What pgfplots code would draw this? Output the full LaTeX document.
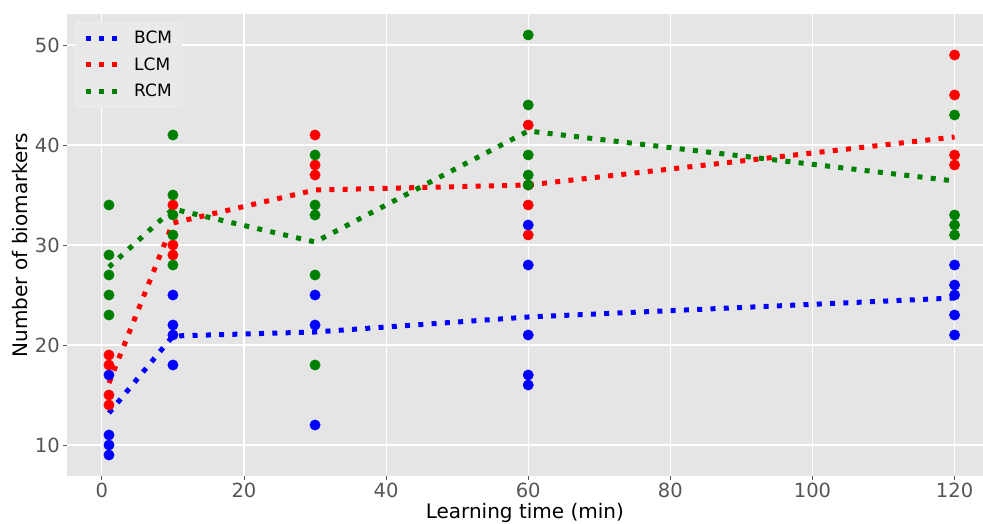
\documentclass[border=0pt]{standalone}
\usepackage{fontspec}
\setmainfont{DejaVu Sans}
\usepackage{pgfplots}
\pgfplotsset{compat=1.18}
\usetikzlibrary{calc}
\definecolor{mBlue}{RGB}{0,0,255}
\definecolor{mRed}{RGB}{255,0,0}
\definecolor{mGreen}{RGB}{0,128,0}
\definecolor{bgGray}{HTML}{E5E5E5}
\definecolor{tickGray}{HTML}{555555}

\pgfplotsset{
  pts/.style={only marks, mark=*, mark size=5.2bp, forget plot, color=#1,
    mark options={draw=none, fill=#1}},
  avg/.style={#1, line width=5bp, line cap=butt, dash pattern=on 5bp off 8.3bp, no marks},
}

\begin{document}
\begin{tikzpicture}
\begin{axis}[
  name=ax,
  scale only axis,
  width=916.3bp, height=462bp,
  xmin=-4.95, xmax=124.0,
  ymin=6.9, ymax=53.1,
  xtick={0,20,...,120},
  ytick={10,20,...,50},
  axis background/.style={fill=bgGray},
  axis line style={draw=none},
  grid=major,
  major grid style={white, line width=1.1bp},
  tick align=outside,
  major tick length=3.5bp,
  tick style={tickGray, line width=0.8bp},
  xtick pos=bottom, ytick pos=left,
  /pgf/number format/assume math mode=true,
  ticklabel style={font=\fontsize{19.5bp}{23bp}\selectfont, text=tickGray},
  label style={font=\fontsize{20bp}{24bp}\selectfont, text=black},
  xlabel style={yshift=1.5bp},
  xlabel={Learning time (min)},
  ylabel={Number of biomarkers},
  legend cell align=left,
  legend style={at={(rel axis cs:0,1)}, anchor=north west, xshift=8.3bp, yshift=-8bp,
    font=\fontsize{17bp}{20bp}\selectfont, fill=white!15!bgGray, draw=white!70!bgGray,
    rounded corners=3bp, row sep=8.5bp, column sep=12bp, inner xsep=8bp, inner ysep=7bp},
  legend image code/.code={\draw[#1] (0bp,0bp) -- (32bp,0bp);},
]
% scatter of individual results
\addplot[pts=mBlue] coordinates {
 (1,17)(1,11)(1,10)(1,9)
 (10,25)(10,22)(10,21)(10,18)
 (30,25)(30,22)(30,12)
 (60,32)(60,28)(60,21)(60,17)(60,16)
 (120,28)(120,26)(120,25)(120,23)(120,21)};
\addplot[pts=mRed] coordinates {
 (1,19)(1,18)(1,15)(1,14)
 (10,34)(10,30)(10,29)
 (30,41)(30,38)(30,37)
 (60,42)(60,36)(60,34)(60,31)
 (120,49)(120,45)(120,39)(120,38)};
\addplot[pts=mGreen] coordinates {
 (1,34)(1,29)(1,27)(1,25)(1,23)
 (10,41)(10,35)(10,33)(10,31)(10,28)
 (30,39)(30,34)(30,33)(30,27)(30,18)
 (60,51)(60,44)(60,39)(60,37)(60,36)
 (120,43)(120,33)(120,32)(120,31)};
% mean lines
\addplot[avg=mBlue] coordinates {(1,13.2)(10,20.9)(30,21.3)(60,22.8)(120,24.7)};
\addlegendentry{BCM}
\addplot[avg=mRed] coordinates {(1,16.2)(10,32.2)(30,35.5)(60,36.0)(120,40.8)};
\addlegendentry{LCM}
\addplot[avg=mGreen] coordinates {(1,27.8)(10,33.6)(30,30.3)(60,41.4)(120,36.4)};
\addlegendentry{RCM}
\end{axis}
\pgfresetboundingbox
\path[use as bounding box] ($(ax.south west)+(-66.7bp,-48bp)$) rectangle ($(ax.north east)+(0bp,14bp)$);
\end{tikzpicture}
\end{document}
